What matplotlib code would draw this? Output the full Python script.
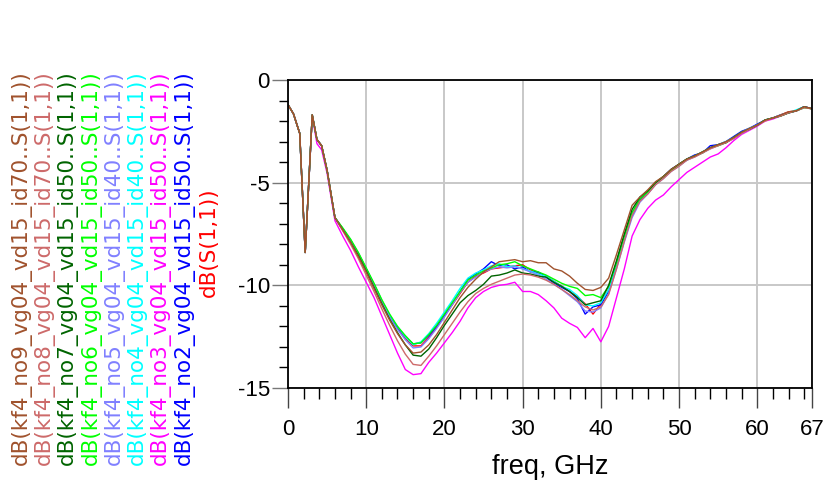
import matplotlib
matplotlib.use("Agg")
import matplotlib.pyplot as plt
from matplotlib.ticker import FixedLocator, MultipleLocator

# ------------------------------------------------------------
# datos
# ------------------------------------------------------------
freq_bajo = [0, 0.7, 1.5, 2.2, 3.1, 3.7, 4.3, 5.0, 6.0]
freq_alto = list(range(7, 68))
freq = freq_bajo + freq_alto

bajo_comun = [-1.2, -1.65, -2.6, -8.4, -1.7, -2.9, -3.2, -4.4, -6.7]
bajo_no3 = [-1.2, -1.65, -2.6, -8.4, -1.75, -3.1, -3.4, -4.55, -6.85]

no9 = [-7.3, -7.9, -8.6, -9.35, -10.15, -10.95, -11.7, -12.35, -12.9, -13.3,
       -13.25, -12.9, -12.4, -11.8, -11.2, -10.6, -10.1, -9.7, -9.35, -9.1,
       -8.85, -8.8, -8.75, -8.85, -8.8, -8.9, -8.9, -9.2, -9.3, -9.55,
       -9.9, -10.2, -10.25, -10.1, -9.65, -8.5, -7.3, -6.1, -5.7, -5.35,
       -4.95, -4.7, -4.35, -4.1, -3.85, -3.7, -3.5, -3.3, -3.15, -3.0,
       -2.8, -2.55, -2.35, -2.2, -1.95, -1.85, -1.7, -1.55, -1.5, -1.3, -1.4]
no8 = [-7.35, -8.0, -8.7, -9.5, -10.3, -11.15, -11.95, -12.7, -13.35, -13.85,
       -13.9, -13.45, -12.95, -12.4, -11.85, -11.3, -10.8, -10.4, -10.15, -9.95,
       -9.8, -9.65, -9.5, -9.45, -9.5, -9.6, -9.75, -9.95, -10.2, -10.45,
       -10.75, -11.05, -11.2, -11.05, -10.45, -9.2, -7.85, -6.6, -5.9, -5.55,
       -5.1, -4.8, -4.45, -4.2, -3.9, -3.75, -3.55, -3.35, -3.2, -3.05,
       -2.85, -2.6, -2.4, -2.2, -2.0, -1.85, -1.75, -1.6, -1.5, -1.35, -1.4]
no7 = [-7.3, -7.9, -8.55, -9.3, -10.1, -10.9, -11.65, -12.3, -12.9, -13.4,
       -13.45, -13.1, -12.55, -11.95, -11.4, -10.85, -10.5, -10.25, -9.95, -9.55,
       -9.5, -9.4, -9.25, -9.4, -9.45, -9.55, -9.6, -9.85, -10.05, -10.3,
       -10.6, -10.95, -10.85, -10.75, -10.0, -8.8, -7.5, -6.3, -5.7, -5.4,
       -5.0, -4.7, -4.35, -4.1, -3.85, -3.7, -3.5, -3.3, -3.15, -3.05,
       -2.8, -2.55, -2.4, -2.2, -1.95, -1.85, -1.75, -1.6, -1.5, -1.3, -1.4]
no6 = [-7.2, -7.75, -8.4, -9.15, -9.9, -10.7, -11.4, -12.0, -12.45, -12.85,
       -12.8, -12.4, -11.95, -11.4, -10.85, -10.3, -9.75, -9.5, -9.3, -9.15,
       -9.0, -8.95, -8.85, -9.05, -9.2, -9.35, -9.5, -9.7, -9.9, -10.05,
       -10.15, -10.5, -10.45, -10.6, -10.05, -8.9, -7.6, -6.45, -5.8, -5.45,
       -5.0, -4.7, -4.4, -4.1, -3.85, -3.7, -3.55, -3.3, -3.2, -3.05,
       -2.8, -2.55, -2.4, -2.2, -1.95, -1.85, -1.75, -1.6, -1.5, -1.35, -1.4]
no5 = [-7.25, -7.8, -8.45, -9.2, -10.0, -10.8, -11.55, -12.15, -12.65, -13.05,
       -13.0, -12.6, -12.1, -11.55, -10.95, -10.35, -9.85, -9.6, -9.35, -9.2,
       -9.1, -9.15, -9.1, -9.2, -9.35, -9.5, -9.7, -9.95, -10.2, -10.5,
       -10.8, -11.25, -11.3, -11.1, -10.4, -9.2, -7.9, -6.7, -5.95, -5.55,
       -5.1, -4.8, -4.45, -4.2, -3.9, -3.75, -3.55, -3.35, -3.2, -3.05,
       -2.85, -2.6, -2.4, -2.2, -1.95, -1.85, -1.7, -1.6, -1.5, -1.35, -1.4]
no4 = [-7.25, -7.8, -8.45, -9.2, -9.95, -10.75, -11.45, -12.0, -12.5, -12.9,
       -12.75, -12.35, -11.85, -11.3, -10.75, -10.15, -9.65, -9.4, -9.25, -9.05,
       -8.95, -9.1, -9.05, -9.2, -9.3, -9.45, -9.55, -9.8, -10.05, -10.2,
       -10.5, -10.95, -11.0, -10.85, -10.2, -8.95, -7.7, -6.5, -5.7, -5.5,
       -5.05, -4.75, -4.4, -4.15, -3.9, -3.7, -3.5, -3.3, -3.15, -3.0,
       -2.8, -2.55, -2.35, -2.2, -1.95, -1.85, -1.7, -1.6, -1.45, -1.3, -1.4]
no3 = [-7.6, -8.3, -9.1, -9.85, -10.6, -11.5, -12.4, -13.3, -14.1, -14.35,
       -14.3, -13.75, -13.3, -12.8, -12.3, -11.75, -11.1, -10.6, -10.3, -10.1,
       -10.0, -9.95, -9.85, -10.3, -10.3, -10.45, -10.75, -11.1, -11.6, -11.85,
       -12.05, -12.55, -12.1, -12.75, -12.0, -10.6, -9.2, -7.6, -6.8, -6.25,
       -5.85, -5.6, -5.2, -4.85, -4.5, -4.25, -4.0, -3.75, -3.6, -3.3,
       -2.95, -2.65, -2.45, -2.25, -2.0, -1.9, -1.75, -1.6, -1.5, -1.3, -1.4]
no2 = [-7.25, -7.8, -8.5, -9.2, -9.95, -10.75, -11.5, -12.05, -12.5, -12.85,
       -12.8, -12.45, -12.0, -11.45, -10.9, -10.3, -9.7, -9.45, -9.2, -8.85,
       -9.05, -9.0, -9.2, -9.1, -9.35, -9.35, -9.6, -9.9, -10.1, -10.3,
       -10.65, -11.4, -11.05, -10.95, -10.3, -8.9, -7.6, -6.6, -5.85, -5.5,
       -5.05, -4.7, -4.35, -4.1, -3.85, -3.65, -3.55, -3.2, -3.15, -3.0,
       -2.75, -2.5, -2.35, -2.15, -1.95, -1.85, -1.7, -1.6, -1.5, -1.3, -1.4]
s11 = [-7.25, -7.8, -8.45, -9.2, -9.95, -10.8, -11.5, -12.1, -12.6, -12.95,
       -12.95, -12.55, -12.05, -11.5, -10.95, -10.4, -9.85, -9.55, -9.4, -9.2,
       -9.15, -9.1, -9.05, -9.0, -9.25, -9.4, -9.55, -9.8, -10.05, -10.3,
       -10.55, -10.9, -11.4, -10.9, -10.2, -9.0, -7.75, -6.55, -5.85, -5.5,
       -5.05, -4.75, -4.4, -4.15, -3.9, -3.7, -3.55, -3.3, -3.15, -3.05,
       -2.8, -2.55, -2.4, -2.2, -1.95, -1.85, -1.7, -1.55, -1.5, -1.3, -1.4]

etiquetas = ["dB(kf4_no9_vg04_vd15_id70..S(1,1))",
             "dB(kf4_no8_vg04_vd15_id70..S(1,1))",
             "dB(kf4_no7_vg04_vd15_id50..S(1,1))",
             "dB(kf4_no6_vg04_vd15_id50..S(1,1))",
             "dB(kf4_no5_vg04_vd15_id40..S(1,1))",
             "dB(kf4_no4_vg04_vd15_id40..S(1,1))",
             "dB(kf4_no3_vg04_vd15_id50..S(1,1))",
             "dB(kf4_no2_vg04_vd15_id50..S(1,1))",
             "dB(S(1,1))"]
colores = ["#A0522D", "#CD6A6A", "#006400", "#00FF00", "#8080FF",
           "#00FFFF", "#FF00FF", "#0000FF", "#FF0000"]
series = [bajo_comun + no9, bajo_comun + no8, bajo_comun + no7,
          bajo_comun + no6, bajo_comun + no5, bajo_comun + no4,
          bajo_no3 + no3, bajo_comun + no2, bajo_comun + s11]

xticks = [0, 10, 20, 30, 40, 50, 60, 67]
yticks = [0, -5, -10, -15]

# ------------------------------------------------------------
# gráfica
# ------------------------------------------------------------
plt.rcParams['axes.unicode_minus'] = False
W, H = 823, 484
fig = plt.figure(figsize=(W / 100, H / 100), dpi=100)
ax = fig.add_axes([288 / W, 1 - 388 / H, (812 - 288) / W, (388 - 80) / H])

# se dibuja al revés para que no9 quede encima
for vals, col in reversed(list(zip(series, colores))):
    ax.plot(freq, vals, color=col, lw=1.0)

ax.set_xlim(0, 67)
ax.set_ylim(-15, 0)

ax.xaxis.set_major_locator(FixedLocator(xticks))
ax.xaxis.set_minor_locator(FixedLocator([m for m in range(2, 67, 2) if m % 10 != 0]))
ax.yaxis.set_major_locator(FixedLocator(yticks))
ax.yaxis.set_minor_locator(MultipleLocator(1))
ax.set_xticklabels([str(t) for t in xticks])
ax.set_yticklabels([str(t) for t in yticks])

fuente = 'Liberation Sans'
ax.tick_params(axis='x', which='major', length=14.4, width=1.0, pad=8,
               labelsize=16, color='#444444')
ax.tick_params(axis='x', which='minor', length=8, width=1.0, color='black')
ax.tick_params(axis='y', which='major', length=11.5, width=1.0, pad=1.5,
               labelsize=16, color='#777777')
ax.tick_params(axis='y', which='minor', length=6.5, width=1.0, color='black')
for lab in ax.get_xticklabels() + ax.get_yticklabels():
    lab.set_family(fuente)

ax.grid(True, which='major', color='#C8C8C8', lw=1.4)
ax.set_axisbelow(True)
for sp in ax.spines.values():
    sp.set_color('black')
    sp.set_linewidth(1.3)

ax.set_xlabel("freq, GHz", fontsize=19.5, family=fuente, labelpad=10)

# etiquetas verticales a la izquierda (DejaVu: más ancha, columnas sin solaparse)
x_col = [21, 44.3, 67.6, 90.9, 114.2, 137.5, 160.8, 184.1, 209]
y_base = [465, 465, 465, 465, 465, 465, 465, 465, 297]
for txt, col, xc, yb in zip(etiquetas, colores, x_col, y_base):
    fig.text(xc / W, 1 - yb / H, txt, rotation=90, ha='center', va='bottom',
             color=col, fontsize=15.5, family='DejaVu Sans')

fig.savefig("out.png", dpi=100)
